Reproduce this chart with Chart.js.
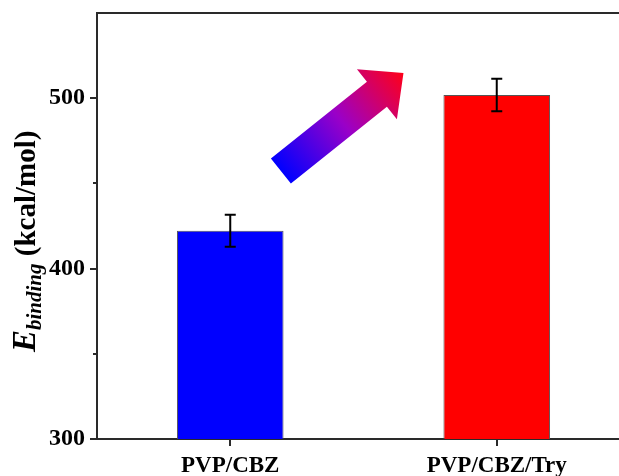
<!DOCTYPE html>
<html>
<head>
<meta charset="utf-8">
<script src="https://cdn.jsdelivr.net/npm/chart.js@4"></script>
<style>
  html, body { margin: 0; padding: 0; background: #fff; overflow: hidden; }
  #wrap { position: absolute; left: 0; top: 0; width: 630px; height: 476px; }
</style>
</head>
<body>
<div id="wrap"><canvas id="c"></canvas></div>
<script>
// ---- data ----
const categories = ['PVP/CBZ', 'PVP/CBZ/Try'];
const bindingEnergy = [422.2, 501.9];
const bindingError = [9.4, 9.5];
const barColors = ['#0000ff', '#ff0000'];
const yTickValues = [300, 350, 400, 450, 500];
const yLabelValues = [300, 400, 500];
// arrow annotation anchored in data space: [category index, value]
const arrowTail = [0.19, 457.3];
const arrowTip = [0.65, 514.8];

const SERIF = '"Liberation Serif", "Times New Roman", serif';
const AXIS_COLOR = '#2a2a2a';

const framePlugin = {
  id: 'frame',
  afterDraw(chart) {
    const {ctx, chartArea: a, scales: {x, y}} = chart;
    ctx.save();
    ctx.strokeStyle = AXIS_COLOR;
    ctx.lineWidth = 2;
    ctx.beginPath();
    ctx.moveTo(a.left - 1, a.top);
    ctx.lineTo(a.right, a.top);
    ctx.lineTo(a.right, a.bottom);
    ctx.stroke();
    yTickValues.forEach(v => {
      const py = Math.round(y.getPixelForValue(v));
      const len = yLabelValues.includes(v) ? 7 : 4;
      ctx.beginPath();
      ctx.moveTo(a.left - len, py);
      ctx.lineTo(a.left, py);
      ctx.stroke();
    });
    categories.forEach((c, i) => {
      const px = Math.round(x.getPixelForValue(i));
      ctx.beginPath();
      ctx.moveTo(px, a.bottom);
      ctx.lineTo(px, a.bottom + 7);
      ctx.stroke();
    });
    ctx.restore();
  }
};

const errorBarPlugin = {
  id: 'errorBars',
  afterDatasetsDraw(chart) {
    const {ctx, scales: {x, y}} = chart;
    ctx.save();
    ctx.strokeStyle = '#000';
    ctx.lineWidth = 2;
    bindingEnergy.forEach((v, i) => {
      const px = x.getPixelForValue(i);
      const top = y.getPixelForValue(v + bindingError[i]);
      const bot = y.getPixelForValue(v - bindingError[i]);
      ctx.beginPath();
      ctx.moveTo(px, top); ctx.lineTo(px, bot);
      ctx.moveTo(px - 5.5, top); ctx.lineTo(px + 5.5, top);
      ctx.moveTo(px - 5.5, bot); ctx.lineTo(px + 5.5, bot);
      ctx.stroke();
    });
    ctx.restore();
  }
};

const arrowPlugin = {
  id: 'arrow',
  afterDatasetsDraw(chart) {
    const {ctx, scales: {x, y}} = chart;
    const tx = x.getPixelForValue(arrowTail[0]), ty = y.getPixelForValue(arrowTail[1]);
    const hx = x.getPixelForValue(arrowTip[0]), hy = y.getPixelForValue(arrowTip[1]);
    const dx = hx - tx, dy = hy - ty;
    const L = Math.hypot(dx, dy);
    const ux = dx / L, uy = dy / L;
    const nx = -uy, ny = ux;
    const shaftW = 32, headW = 64, headL = 34;
    const bx = hx - ux * headL, by = hy - uy * headL;
    const pts = [
      [tx + nx * shaftW / 2, ty + ny * shaftW / 2],
      [bx + nx * shaftW / 2, by + ny * shaftW / 2],
      [bx + nx * headW / 2, by + ny * headW / 2],
      [hx, hy],
      [bx - nx * headW / 2, by - ny * headW / 2],
      [bx - nx * shaftW / 2, by - ny * shaftW / 2],
      [tx - nx * shaftW / 2, ty - ny * shaftW / 2]
    ];
    ctx.save();
    const g = ctx.createLinearGradient(tx, ty, hx, hy);
    g.addColorStop(0, '#0000ff');
    g.addColorStop(0.5, '#9a00c8');
    g.addColorStop(1, '#ff0018');
    ctx.fillStyle = g;
    ctx.beginPath();
    pts.forEach((p, i) => i ? ctx.lineTo(p[0], p[1]) : ctx.moveTo(p[0], p[1]));
    ctx.closePath();
    ctx.fill();
    ctx.restore();
  }
};

const yTitlePlugin = {
  id: 'yTitle',
  afterDraw(chart) {
    const {ctx} = chart;
    const bigFont = 'italic bold 33px ' + SERIF;
    const subFont = 'italic bold 21px ' + SERIF;
    const unitFont = 'bold 29px ' + SERIF;
    ctx.save();
    ctx.font = bigFont; const wE = ctx.measureText('E').width;
    ctx.font = subFont; const wSub = ctx.measureText('binding').width;
    const cx = 35, startY = 352;
    ctx.translate(cx, startY);
    ctx.rotate(-Math.PI / 2);
    ctx.fillStyle = '#000';
    ctx.textBaseline = 'alphabetic';
    let xpos = 0;
    ctx.font = bigFont; ctx.fillText('E', xpos, 0); xpos += wE;
    ctx.font = subFont; ctx.fillText('binding', xpos, 6); xpos += wSub;
    ctx.font = unitFont; ctx.fillText(' (kcal/mol)', xpos, 0);
    ctx.restore();
  }
};

new Chart(document.getElementById('c'), {
  type: 'bar',
  data: {
    labels: categories,
    datasets: [{
      data: bindingEnergy,
      backgroundColor: barColors,
      borderColor: '#555',
      borderWidth: 1,
      borderSkipped: false,
      barPercentage: 0.4,
      categoryPercentage: 1.0
    }]
  },
  options: {
    responsive: true,
    maintainAspectRatio: false,
    animation: false,
    layout: { padding: { top: 13, right: 0, left: 0, bottom: 0 } },
    plugins: { legend: { display: false }, tooltip: { enabled: false } },
    scales: {
      x: {
        offset: true,
        grid: { display: false },
        border: { display: true, color: AXIS_COLOR, width: 2 },
        ticks: { color: '#000', padding: 5, font: { family: SERIF, size: 23, weight: 'bold' }, maxRotation: 0 },
        afterFit: s => { s.height = 37; s.paddingLeft = 0; s.paddingRight = 0; }
      },
      y: {
        min: 300, max: 550,
        grid: { display: false },
        border: { display: true, color: AXIS_COLOR, width: 2 },
        afterBuildTicks: s => { s.ticks = yTickValues.map(v => ({ value: v })); },
        ticks: {
          color: '#000', padding: 4,
          font: { family: SERIF, size: 24, weight: 'bold' },
          callback: v => (yLabelValues.includes(v) ? String(v) : '')
        },
        afterFit: s => { s.width = 97; s.paddingTop = 0; s.paddingBottom = 0; }
      }
    }
  },
  plugins: [framePlugin, errorBarPlugin, arrowPlugin, yTitlePlugin]
});
</script>
</body>
</html>
